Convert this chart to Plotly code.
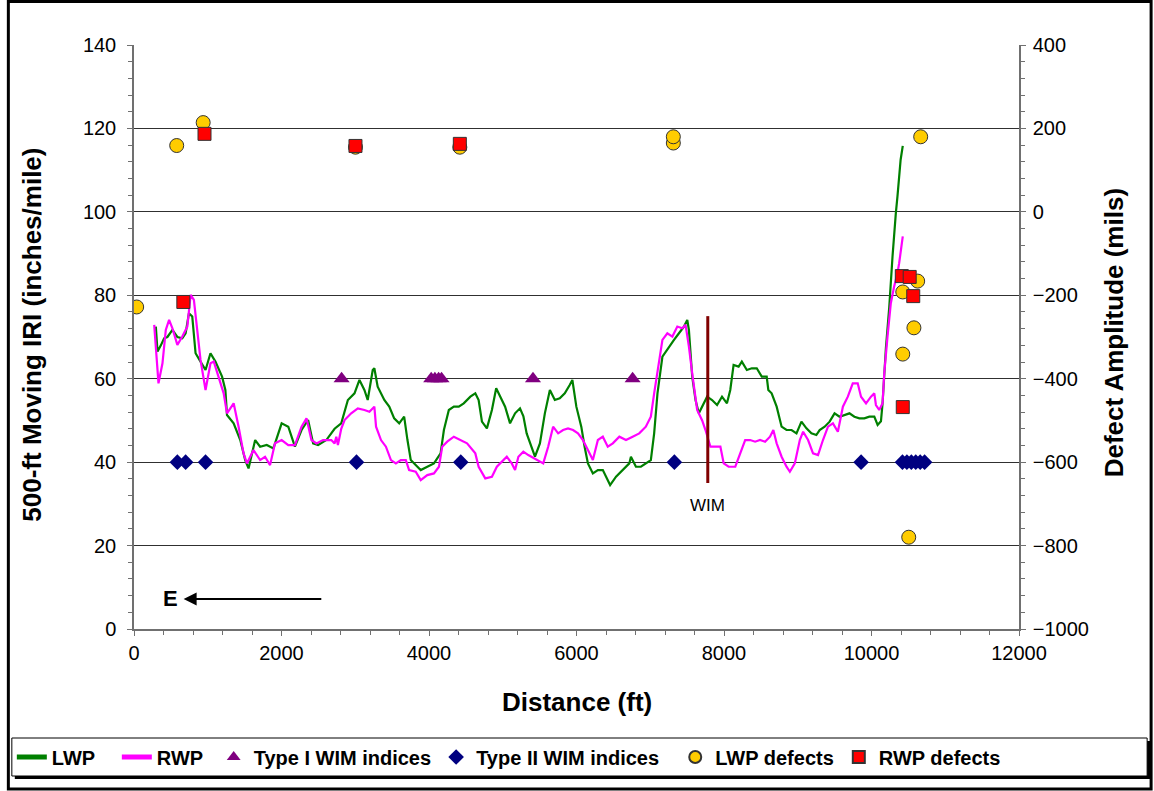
import plotly.graph_objects as go

# ---------------- data ----------------
lwp_x = [296, 319, 364, 408, 453, 521, 588, 655, 700, 745, 790, 835, 902, 970, 1037, 1104, 1194, 1239, 1261,
         1351, 1441, 1508, 1553, 1643, 1710, 1800, 1890, 2002, 2092, 2182, 2272, 2361, 2429, 2496, 2608, 2720,
         2810, 2900, 2990, 3057, 3124, 3169, 3237, 3259, 3304, 3394, 3461, 3528, 3596, 3663, 3708, 3753, 3843,
         3888, 3977, 4067, 4157, 4202, 4269, 4337, 4404, 4471, 4561, 4628, 4673, 4718, 4785, 4853, 4911, 4965,
         5032, 5099, 5167, 5234, 5280, 5324, 5392, 5437, 5504, 5571, 5639, 5706, 5773, 5841, 5908, 5944, 5998,
         6065, 6110, 6155, 6222, 6290, 6357, 6424, 6456, 6536, 6626, 6716, 6738, 6806, 6873, 6940, 7008, 7053,
         7098, 7165, 7255, 7322, 7389, 7457, 7502, 7524, 7569, 7614, 7659, 7704, 7771, 7838, 7906, 7973, 8040,
         8085, 8130, 8198, 8242, 8310, 8377, 8444, 8512, 8579, 8601, 8646, 8714, 8781, 8848, 8916, 8983, 9050,
         9118, 9185, 9252, 9297, 9365, 9432, 9499, 9567, 9634, 9701, 9768, 9836, 9903, 9971, 10038, 10083,
         10128, 10150, 10195, 10240, 10285, 10307, 10330, 10352, 10375, 10395, 10424]
lwp_y = [72.5, 66.5, 68.0, 69.7, 70.0, 71.7, 70.0, 69.7, 70.9, 75.7, 74.9, 66.1, 64.1, 62.1, 66.1, 64.1, 60.5, 57.3, 51.3,
         49.3, 45.3, 40.5, 38.5, 45.3, 43.7, 44.1, 43.3, 49.3, 48.5, 43.7, 47.7, 50.1, 44.5, 44.1, 45.3, 48.0,
         49.3, 54.9, 56.5, 59.7, 57.3, 54.9, 62.1, 62.5, 58.1, 54.9, 53.3, 50.5, 49.3, 50.9, 45.3, 40.5, 38.9,
         38.1, 38.9, 39.7, 42.1, 47.7, 52.5, 53.3, 53.3, 54.1, 55.7, 56.5, 54.9, 49.7, 48.1, 52.5, 57.7, 55.7,
         53.3, 49.3, 51.7, 52.9, 51.0, 46.9, 43.7, 41.3, 44.5, 51.7, 57.3, 54.9, 55.3, 56.5, 58.5, 59.7, 53.3,
         48.5, 43.7, 39.7, 37.3, 38.1, 38.1, 35.7, 34.5, 36.5, 38.1, 39.7, 41.3, 38.9, 38.9, 39.7, 40.5, 46.9,
         56.5, 65.3, 67.7, 69.3, 70.9, 72.5, 74.1, 71.7, 60.5, 54.9, 51.7, 53.3, 55.7, 54.9, 53.7, 55.7, 54.1,
         57.3, 63.3, 62.9, 64.1, 62.1, 62.5, 62.5, 60.5, 60.5, 57.3, 56.5, 53.3, 48.5, 47.7, 47.7, 46.9, 49.7,
         48.1, 46.9, 46.5, 47.7, 48.5, 49.7, 51.7, 50.9, 51.3, 51.7, 50.9, 50.5, 50.5, 50.9, 50.9, 48.9,
         49.8, 54.1, 67.3, 77.0, 89.3, 95.7, 99.7, 103.7, 108.5, 112.5, 115.8]

rwp_x = [274, 332, 386, 431, 476, 521, 588, 655, 723, 768, 812, 857, 902, 970, 1037, 1082, 1149, 1216, 1261, 1351,
         1418, 1486, 1531, 1620, 1710, 1777, 1845, 1912, 2002, 2092, 2182, 2272, 2339, 2406, 2474, 2563, 2675,
         2720, 2743, 2765, 2810, 2855, 2945, 3035, 3124, 3192, 3259, 3282, 3349, 3416, 3484, 3551, 3618, 3686,
         3730, 3820, 3888, 3977, 4067, 4135, 4179, 4247, 4337, 4426, 4516, 4628, 4673, 4763, 4853, 4920, 4987,
         5055, 5122, 5167, 5212, 5279, 5346, 5414, 5482, 5549, 5616, 5683, 5751, 5818, 5885, 5953, 6020, 6087,
         6155, 6222, 6290, 6357, 6424, 6492, 6581, 6671, 6761, 6851, 6940, 7008, 7053, 7120, 7165, 7232, 7300,
         7367, 7434, 7479, 7524, 7569, 7636, 7704, 7749, 7816, 7883, 7951, 7996, 8063, 8153, 8220, 8287, 8355,
         8422, 8489, 8557, 8624, 8669, 8714, 8781, 8848, 8893, 8960, 9028, 9073, 9140, 9207, 9275, 9342, 9410,
         9477, 9544, 9612, 9679, 9746, 9813, 9858, 9926, 9993, 10038, 10060, 10105, 10150, 10173, 10217, 10262,
         10307, 10352, 10375, 10397, 10424]
rwp_y = [72.9, 58.9, 63.7, 71.7, 74.1, 72.1, 68.1, 70.1, 72.5, 80.1, 78.9, 70.9, 64.5, 57.3, 63.7, 64.1, 60.5, 56.5, 51.7, 54.1,
         48.5, 42.1, 39.7, 42.9, 40.5, 41.3, 39.3, 44.5, 45.3, 44.1, 44.1, 48.5, 50.5, 45.3, 44.5, 45.3, 45.3,
         44.5, 46.1, 44.1, 48.0, 50.1, 51.7, 52.9, 52.5, 52.1, 53.3, 48.5, 45.3, 43.7, 40.5, 39.7, 40.5, 40.5,
         38.1, 37.7, 35.7, 36.9, 37.3, 38.9, 43.7, 44.9, 46.1, 45.3, 44.5, 42.1, 38.9, 36.1, 36.5, 38.9, 40.1,
         41.3, 39.7, 38.1, 41.3, 42.5, 41.7, 41.0, 40.5, 39.7, 43.7, 48.5, 46.9, 47.7, 48.1, 47.7, 46.9, 45.3,
         42.9, 40.5, 45.3, 46.1, 43.7, 44.5, 46.1, 45.3, 46.1, 46.9, 48.5, 50.9, 56.5, 63.7, 69.3, 70.9, 70.1,
         72.5, 72.1, 72.9, 67.7, 61.3, 52.5, 50.0, 47.7, 43.7, 43.7, 43.7, 39.7, 38.9, 38.9, 42.1, 45.3, 45.3,
         44.9, 45.3, 44.9, 46.1, 47.7, 44.5, 41.3, 38.9, 37.7, 39.7, 45.3, 47.3, 45.3, 42.1, 41.7, 45.3, 48.5,
         49.3, 47.3, 53.3, 55.7, 58.9, 58.9, 55.7, 54.1, 55.7, 56.5, 53.7, 52.5, 54.1, 61.3, 70.1, 78.1,
         82.1, 85.3, 87.7, 90.1, 94.1]

type1_x = [2815, 4030, 4080, 4130, 4170, 5410, 6761]
type1_y = [60, 60, 60, 60, 60, 60, 60]

type2_x = [588, 700, 970, 3017, 4431, 7327, 9859, 10420, 10480, 10540, 10600, 10660, 10720]
type2_y = [40, 40, 40, 40, 40, 40, 40, 40, 40, 40, 40, 40, 40]

lwp_def_x = [36, 579, 938, 3003, 4418, 7313, 7313, 10667, 10626, 10424, 10575, 10424, 10505]
lwp_def_y = [-228, 159, 214, 155, 155, 165, 180, 180, -166, -192, -278, -341, -780]

rwp_def_x = [669, 956, 3003, 4418, 10411, 10518, 10566, 10424]
rwp_def_y = [-216, 187, 158, 163, -154, -156, -202, -468]

series_names = ["LWP", "RWP", "Type I WIM indices", "Type II WIM indices", "LWP defects", "RWP defects"]

wim_x = [7780, 7780]
wim_y = [35, 75]
wim_label = "WIM"
arrow_from = (2560, 7.2)
arrow_to = (673, 7.2)
dir_label_x = 498

# ---------------- layout constants (pixels) ----------------
W, H = 1154, 791
L, R, T, B = 128, 1019, 45, 629
pw, ph = R - L, B - T


def px(x):
    return (x - L) / pw


def py(y):
    return (B - y) / ph


FONT = "Liberation Sans, Arial, sans-serif"
NB = "\u00a0"
# a few trailing non-breaking spaces spread the single-row legend entries
legend_pad = [3, 1, 0, 2, 0, 0]
names = [n + NB * p for n, p in zip(series_names, legend_pad)]

fig = go.Figure()
fig.add_trace(go.Scatter(x=lwp_x, y=lwp_y, mode="lines", name=names[0],
                         line=dict(color="#008000", width=2.2)))
fig.add_trace(go.Scatter(x=rwp_x, y=rwp_y, mode="lines", name=names[1],
                         line=dict(color="#FF00FF", width=2.2)))
fig.add_trace(go.Scatter(x=type1_x, y=type1_y, mode="markers", name=names[2],
                         marker=dict(symbol="triangle-up", size=14, color="#800080")))
fig.add_trace(go.Scatter(x=type2_x, y=type2_y, mode="markers", name=names[3],
                         marker=dict(symbol="diamond", size=12, color="#000080")))
fig.add_trace(go.Scatter(x=lwp_def_x, y=lwp_def_y, mode="markers", name=names[4], yaxis="y2",
                         marker=dict(symbol="circle", size=14, color="#FFCC00",
                                     line=dict(color="#333333", width=1))))
fig.add_trace(go.Scatter(x=rwp_def_x, y=rwp_def_y, mode="markers", name=names[5], yaxis="y2",
                         marker=dict(symbol="square", size=13, color="#FF0000",
                                     line=dict(color="#333333", width=1))))
fig.add_trace(go.Scatter(x=wim_x, y=wim_y, mode="lines", showlegend=False,
                         line=dict(color="#800000", width=3)))

axis_common = dict(showline=True, linecolor="#707070", linewidth=1.5, ticks="outside",
                   ticklen=5, tickcolor="#707070", tickfont=dict(family=FONT, size=20, color="black"),
                   zeroline=False)

fig.update_layout(
    width=W, height=H,
    margin=dict(l=L, r=W - R, t=T, b=H - B, pad=0),
    paper_bgcolor="white", plot_bgcolor="white",
    showlegend=True,
    xaxis=dict(range=[0, 12000], dtick=2000, showgrid=False, tickformat="d",
               minor=dict(ticks="outside", dtick=400, ticklen=4, tickcolor="#707070"),
               **axis_common),
    yaxis=dict(range=[0, 140], dtick=20, showgrid=True, gridcolor="#303030", gridwidth=1, ticklabelstandoff=7,
               minor=dict(ticks="outside", dtick=4, ticklen=4, tickcolor="#707070", showgrid=False),
               **axis_common),
    yaxis2=dict(range=[-1000, 400], dtick=200, overlaying="y", side="right", showgrid=False,
                ticklabelstandoff=3,
                minor=dict(ticks="outside", dtick=40, ticklen=4, tickcolor="#707070"),
                **axis_common),
    legend=dict(orientation="h", x=px(5), y=py(757), xanchor="left", yanchor="middle",
                bgcolor="rgba(0,0,0,0)", borderwidth=0,
                font=dict(family=FONT, size=20, color="black", weight="bold"),
                itemsizing="constant"),
    font=dict(family=FONT, color="black"),
)

shapes = [
    # legend drop shadow
    dict(type="rect", xref="paper", yref="paper", x0=px(8), x1=px(1151), y0=py(779), y1=py(741),
         line=dict(color="black", width=0), fillcolor="black", layer="below"),
    # legend box
    dict(type="rect", xref="paper", yref="paper", x0=px(5), x1=px(1148), y0=py(776), y1=py(738),
         line=dict(color="black", width=1), fillcolor="white", layer="below"),
    # figure frame
    dict(type="rect", xref="paper", yref="paper", x0=px(1.5), x1=px(W - 2), y0=py(H - 2), y1=py(1.5),
         line=dict(color="black", width=3), fillcolor="rgba(0,0,0,0)", layer="below"),
]
fig.update_layout(shapes=shapes)

title_font = dict(family=FONT, size=26, color="black", weight="bold")
annotations = [
    dict(text="500-ft Moving IRI (inches/mile)", xref="paper", yref="paper", x=px(25), y=py(335),
         xanchor="center", yanchor="middle", textangle=-90, showarrow=False, font=title_font),
    dict(text="Defect Amplitude (mils)", xref="paper", yref="paper", x=px(1115), y=py(333),
         xanchor="center", yanchor="middle", textangle=-90, showarrow=False, font=title_font),
    dict(text="Distance (ft)", xref="paper", yref="paper", x=px(574), y=py(702),
         xanchor="center", yanchor="middle", showarrow=False, font=title_font),
    dict(text=wim_label, xref="x", yref="y", x=wim_x[0], y=wim_y[0] - 5.3, showarrow=False,
         xanchor="center", yanchor="middle", font=dict(family=FONT, size=17, color="black")),
    dict(text="", xref="x", yref="y", x=arrow_to[0], y=arrow_to[1], ax=arrow_from[0], ay=arrow_from[1],
         axref="x", ayref="y", showarrow=True, arrowhead=2, arrowsize=1.3, arrowwidth=2, arrowcolor="black"),
    dict(text="E", xref="x", yref="y", x=dir_label_x, y=arrow_to[1], showarrow=False,
         xanchor="center", yanchor="middle", font=dict(family=FONT, size=22, color="black", weight="bold")),
]
fig.update_layout(annotations=annotations)

fig.write_html("out.html")
